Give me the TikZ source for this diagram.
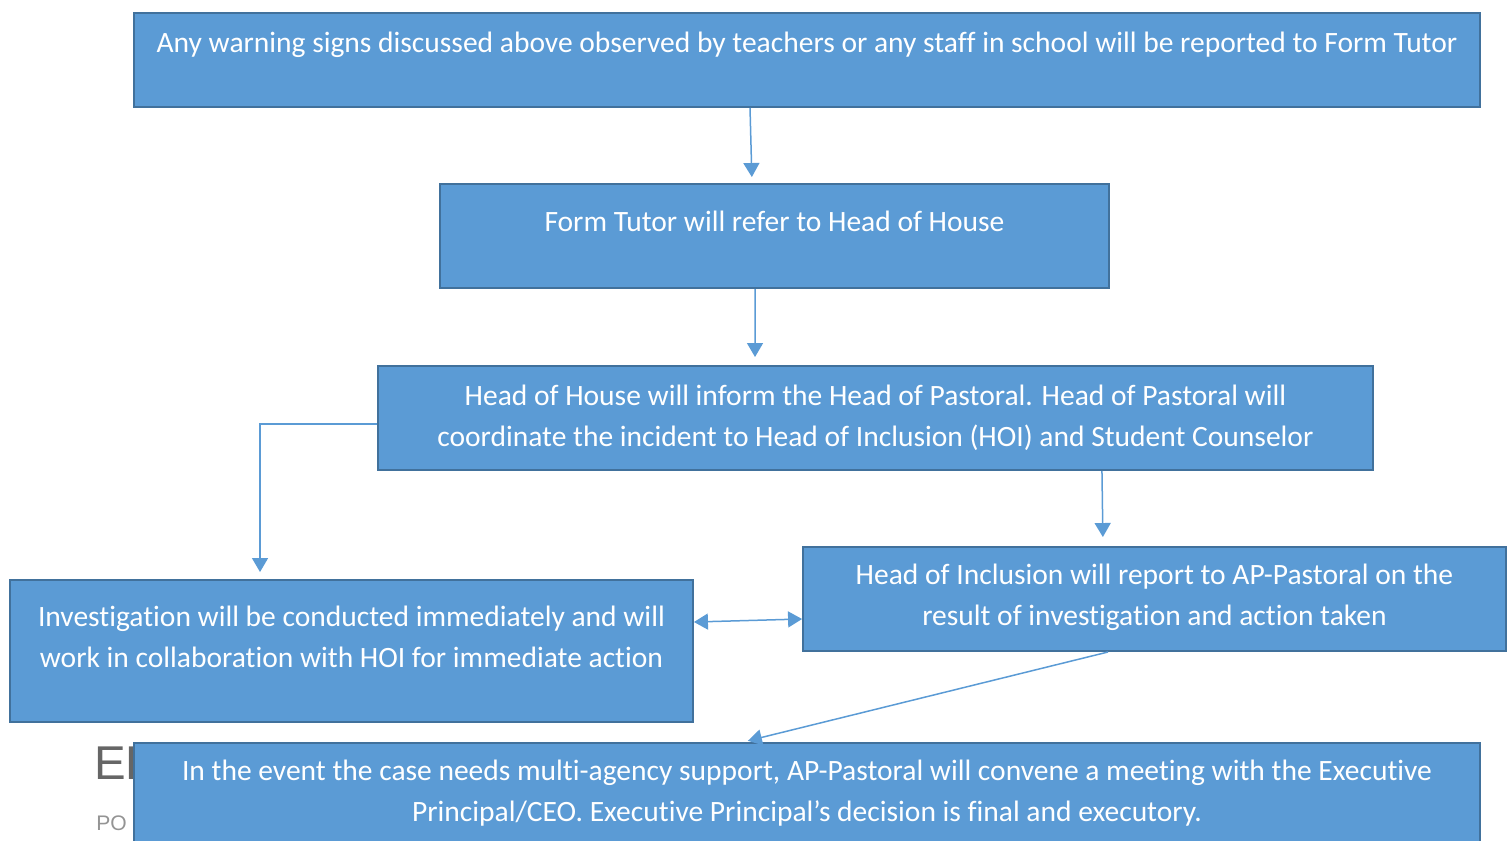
\documentclass[tikz,border=0pt]{standalone}
\usepackage{fontspec}
\setmainfont[RawFeature=-liga]{Carlito}
\newfontfamily\bgfont{Liberation Sans}
\usetikzlibrary{arrows.meta}
\definecolor{boxfill}{HTML}{5B9BD5}
\definecolor{boxline}{HTML}{41719C}
\definecolor{bggray}{HTML}{666666}

\begin{document}
\begin{tikzpicture}[x=0.02cm, y=-0.02cm,
    flowbox/.style={draw=boxline, fill=boxfill, line width=0.04cm, inner sep=0pt},
    flowtext/.style={text=white, align=center, inner sep=0pt,
        font=\fontsize{16.8}{23.2}\selectfont},
    flowarrow/.style={draw=boxfill, line width=0.03cm,
        -{Triangle[width=0.32cm, length=0.28cm]}}]
			%%%%% START %%%%%
			\useasboundingbox (0,0) rectangle (1512,840);
			\clip (0,0) rectangle (1512,840);
			
			% page text showing behind the last box
			\node[text=bggray, anchor=west, inner sep=0pt, font=\bgfont\fontsize{27}{27}\selectfont] (bgtitle) at (94,763) {ED};
			\node[text=bggray!70, anchor=west, inner sep=0pt, font=\bgfont\fontsize{12}{12}\selectfont] (bgline) at (96,823) {PO};
			
			\node[flowbox, minimum width=26.92cm, minimum height=1.88cm] (warn) at (807,60) {};
			\node[flowtext] (warntext) at (807,45) {Any warning signs discussed above observed by teachers or any staff in school will be reported to Form Tutor};
			
			\node[flowbox, minimum width=13.38cm, minimum height=2.08cm] (tutor) at (774.5,236) {};
			\node[flowtext] (tutortext) at (774.5,221) {Form Tutor will refer to Head of House};
			
			\node[flowbox, minimum width=19.9cm, minimum height=2.08cm] (pastoral) at (875.5,418) {};
			\node[flowtext] (pastoraltext) at (875.5,417.5) {Head of House will inform the Head of Pastoral. Head of Pastoral will\\coordinate the incident to Head of Inclusion (HOI) and Student Counselor};
			
			\node[flowbox, minimum width=13.66cm, minimum height=2.84cm] (invest) at (351.5,651) {};
			\node[flowtext] (investtext) at (351.5,636.5) {Investigation will be conducted immediately and will\\work in collaboration with HOI for immediate action};
			
			\node[flowbox, minimum width=14.06cm, minimum height=2.08cm] (inclusion) at (1154.5,599) {};
			\node[flowtext] (inclusiontext) at (1154.5,597.5) {Head of Inclusion will report to AP-Pastoral on the\\result of investigation and action taken};
			
			\node[flowbox, minimum width=26.92cm, minimum height=2.4cm] (final) at (807,803) {};
			\node[flowtext] (finaltext) at (807,793) {In the event the case needs multi-agency support, AP-Pastoral will convene a meeting with the Executive\\Principal/CEO. Executive Principal’s decision is final and executory.};
			
			% connectors
			\draw[flowarrow, shorten >=0.12cm] ([xshift=-1.14cm]warn.south) -- ([xshift=-0.45cm]tutor.north);
			\draw[flowarrow, shorten >=0.16cm] ([xshift=-0.39cm]tutor.south) -- ([xshift=-2.41cm]pastoral.north);
			\draw[flowarrow, shorten >=0.14cm] ([yshift=-0.12cm]pastoral.west) -| ([xshift=-1.83cm]invest.north);
			\draw[flowarrow, shorten >=0.18cm] ([xshift=4.53cm]pastoral.south) -- ([xshift=-1.03cm]inclusion.north);
			\draw[flowarrow, {Triangle[width=0.32cm, length=0.28cm]}-{Triangle[width=0.32cm, length=0.28cm]}] ([yshift=0.58cm]invest.east) -- ([yshift=-0.4cm]inclusion.west);
			\draw[flowarrow, shorten >=0.1cm] ([xshift=-0.93cm]inclusion.south) -- ([xshift=-1.28cm]final.north);
			%%%%% END %%%%%
\end{tikzpicture}
\end{document}
